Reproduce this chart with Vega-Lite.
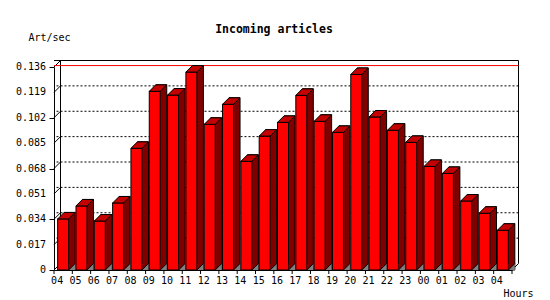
{
  "$schema": "https://vega.github.io/schema/vega-lite/v6.json",
  "width": 458,
  "height": 203,
  "autosize": {"type": "none"},
  "padding": {"left": 54, "top": 67, "right": 38, "bottom": 30},
  "background": "white",
  "title": {"text": "Incoming articles", "font": "DejaVu Sans Mono", "fontSize": 11.5, "fontWeight": "bold", "color": "black", "anchor": "middle", "frame": "group", "dx": -9, "offset": -3},
  "datasets": {
    "rates": [
      {"slot": "04", "v": 0.0342},
      {"slot": "05", "v": 0.0429},
      {"slot": "06", "v": 0.0328},
      {"slot": "07", "v": 0.0449},
      {"slot": "08", "v": 0.0815},
      {"slot": "09", "v": 0.1197},
      {"slot": "10", "v": 0.1172},
      {"slot": "11", "v": 0.1326},
      {"slot": "12", "v": 0.0976},
      {"slot": "13", "v": 0.111},
      {"slot": "14", "v": 0.0728},
      {"slot": "15", "v": 0.0897},
      {"slot": "16", "v": 0.0989},
      {"slot": "17", "v": 0.117},
      {"slot": "18", "v": 0.0996},
      {"slot": "19", "v": 0.0922},
      {"slot": "20", "v": 0.131},
      {"slot": "21", "v": 0.1025},
      {"slot": "22", "v": 0.0936},
      {"slot": "23", "v": 0.0855},
      {"slot": "00", "v": 0.0694},
      {"slot": "01", "v": 0.0647},
      {"slot": "02", "v": 0.0462},
      {"slot": "03", "v": 0.038},
      {"slot": "04n", "v": 0.0266}
    ],
    "ticks": [
      {"t": 0}, {"t": 0.017}, {"t": 0.034}, {"t": 0.051}, {"t": 0.068},
      {"t": 0.085}, {"t": 0.102}, {"t": 0.119}, {"t": 0.136}
    ]
  },
  "config": {
    "view": {"stroke": null},
    "axis": {
      "domainColor": "black",
      "tickColor": "black",
      "labelColor": "black",
      "titleColor": "black",
      "labelFont": "DejaVu Sans Mono",
      "titleFont": "DejaVu Sans Mono",
      "labelFontSize": 10,
      "titleFontSize": 10,
      "titleFontWeight": "normal",
      "grid": false
    }
  },
  "layer": [
    {
      "data": {"name": "ticks"},
      "transform": [{"filter": "datum.t > 0 && datum.t < 0.136"}],
      "mark": {"type": "rule", "color": "black", "strokeWidth": 1, "strokeDash": [2, 2], "xOffset": 6.5, "x2Offset": 6.5, "yOffset": -6.5},
      "encoding": {
        "y": {"field": "t", "type": "quantitative", "scale": {"domain": [0, 0.136], "nice": false},
          "axis": {"title": "Art/sec", "values": [0, 0.017, 0.034, 0.051, 0.068, 0.085, 0.102, 0.119, 0.136], "labels": false, "tickSize": 5, "titleAngle": 0, "titleAlign": "left", "titleBaseline": "middle", "titleX": -26, "titleY": -30}}
      }
    },
    {
      "data": {"name": "ticks"},
      "mark": {"type": "text", "align": "right", "baseline": "middle", "dx": -8, "font": "DejaVu Sans Mono", "fontSize": 10, "color": "black"},
      "encoding": {
        "x": {"value": 0},
        "y": {"field": "t", "type": "quantitative"},
        "text": {"field": "t", "type": "quantitative", "format": ".3~f"}
      }
    },
    {
      "data": {"name": "ticks"},
      "mark": {"type": "rule", "color": "black", "strokeWidth": 1, "x2Offset": 6.5, "y2Offset": -6.5},
      "encoding": {
        "x": {"value": 0},
        "x2": {"value": 0},
        "y": {"field": "t", "type": "quantitative"},
        "y2": {"field": "t"}
      }
    },
    {
      "data": {"name": "ticks"},
      "transform": [{"filter": "datum.t == 0.136"}],
      "mark": {"type": "rule", "color": "black", "strokeWidth": 1, "xOffset": 6.5, "x2Offset": 6.5, "yOffset": -6.5},
      "encoding": {
        "y": {"field": "t", "type": "quantitative"}
      }
    },
    {
      "data": {"name": "ticks"},
      "transform": [{"filter": "datum.t == 0.136"}],
      "mark": {"type": "rule", "color": "black", "strokeWidth": 1, "xOffset": 6.5, "yOffset": -6.5, "y2Offset": -6.5},
      "encoding": {
        "x": {"value": 0},
        "y": {"field": "t", "type": "quantitative"},
        "y2": {"datum": 0}
      }
    },
    {
      "data": {"name": "ticks"},
      "transform": [{"filter": "datum.t == 0.136"}],
      "mark": {"type": "rule", "color": "black", "strokeWidth": 1, "xOffset": 6.5, "yOffset": -6.5, "y2Offset": -6.5},
      "encoding": {
        "x": {"value": "width"},
        "y": {"field": "t", "type": "quantitative"},
        "y2": {"datum": 0}
      }
    },
    {
      "data": {"name": "ticks"},
      "transform": [{"filter": "datum.t == 0"}],
      "mark": {"type": "rule", "color": "black", "strokeWidth": 1, "x2Offset": 6.5, "y2Offset": -6.5},
      "encoding": {
        "x": {"value": "width"},
        "x2": {"value": "width"},
        "y": {"field": "t", "type": "quantitative"},
        "y2": {"field": "t"}
      }
    },
    {
      "data": {"name": "ticks"},
      "transform": [{"filter": "datum.t == 0"}],
      "mark": {"type": "rule", "color": "black", "strokeWidth": 1, "y2Offset": 4},
      "encoding": {
        "x": {"value": "width"},
        "y": {"field": "t", "type": "quantitative"},
        "y2": {"field": "t"}
      }
    },
    {
      "data": {"name": "rates"},
      "mark": {"type": "rule", "color": "black", "strokeWidth": 1, "y2Offset": 4},
      "encoding": {
        "x": {"field": "slot", "type": "nominal", "sort": null, "bandPosition": 0},
        "y": {"datum": 0, "type": "quantitative"},
        "y2": {"datum": 0}
      }
    },
    {
      "data": {"name": "rates"},
      "transform": [
        {"joinaggregate": [{"op": "max", "field": "v", "as": "vmax"}]},
        {"filter": "datum.v == datum.vmax"}
      ],
      "mark": {"type": "rule", "color": "#ff0000", "strokeWidth": 1, "xOffset": 6.5, "x2Offset": 6.5, "yOffset": -6.5},
      "encoding": {
        "y": {"field": "v", "type": "quantitative"}
      }
    },
    {
      "data": {"name": "rates"},
      "mark": {"type": "bar", "width": 11, "fill": "#800000", "stroke": "black", "strokeWidth": 1, "xOffset": 6.5, "yOffset": -6.5, "y2Offset": -6.5},
      "encoding": {
        "x": {"field": "slot", "type": "nominal", "sort": null, "scale": {"paddingInner": 0, "paddingOuter": 0},
          "axis": {"title": "Hours", "labelAngle": 0, "ticks": false, "labelPadding": 10, "labelExpr": "datum.value === '04n' ? '04' : datum.value", "titleAlign": "right", "titleX": 479, "titleY": 23, "titleBaseline": "middle"}},
        "y": {"field": "v", "type": "quantitative", "stack": null}
      }
    },
    {
      "data": {"name": "rates"},
      "mark": {"type": "bar", "width": 11, "fill": "#ff0000", "stroke": "black", "strokeWidth": 1},
      "encoding": {
        "x": {"field": "slot", "type": "nominal", "sort": null},
        "y": {"field": "v", "type": "quantitative", "stack": null}
      }
    },
    {
      "data": {"name": "rates"},
      "mark": {"type": "point", "shape": "M-5.5,0L5.5,0L12,-6.5L1,-6.5Z", "size": 4, "filled": true, "fill": "#c40000", "stroke": "black", "strokeWidth": 1, "opacity": 1, "fillOpacity": 1},
      "encoding": {
        "x": {"field": "slot", "type": "nominal", "sort": null},
        "y": {"field": "v", "type": "quantitative"}
      }
    },
    {
      "data": {"name": "rates"},
      "mark": {"type": "point", "shape": "M5.5,-6.5L12,-6.5L5.5,0Z", "size": 4, "filled": true, "fill": "#800000", "strokeWidth": 0, "opacity": 1, "fillOpacity": 1},
      "encoding": {
        "x": {"field": "slot", "type": "nominal", "sort": null},
        "y": {"datum": 0, "type": "quantitative"}
      }
    },
    {
      "data": {"name": "rates"},
      "mark": {"type": "point", "shape": "M5.5,0L12,-6.5L12,0Z", "size": 4, "filled": true, "fill": "#808080", "strokeWidth": 0, "opacity": 1, "fillOpacity": 1},
      "encoding": {
        "x": {"field": "slot", "type": "nominal", "sort": null},
        "y": {"datum": 0, "type": "quantitative"}
      }
    },
    {
      "data": {"name": "rates"},
      "mark": {"type": "point", "shape": "M5.5,0L12,-6.5", "size": 4, "filled": false, "stroke": "black", "strokeWidth": 1, "opacity": 1},
      "encoding": {
        "x": {"field": "slot", "type": "nominal", "sort": null},
        "y": {"datum": 0, "type": "quantitative"}
      }
    }
  ]
}
